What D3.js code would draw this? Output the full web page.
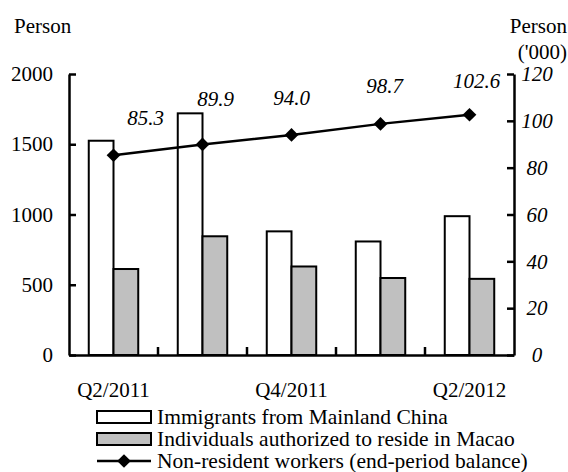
<!DOCTYPE html>
<html><head><meta charset="utf-8">
<script src="https://cdn.jsdelivr.net/npm/d3@7"></script>
<style>html,body{margin:0;padding:0;background:#fff;}svg text{font-family:'Liberation Serif','Times New Roman',serif !important;}</style>
</head><body>
<svg id="c" width="568" height="472"></svg>
<script>
const categories = ["Q2/2011","Q3/2011","Q4/2011","Q1/2012","Q2/2012"];
const xTickLabels = ["Q2/2011","","Q4/2011","","Q2/2012"];
const immigrants = [1525, 1720, 880, 808, 988];
const authorized = [612, 845, 630, 548, 542];
const workers = [85.3, 89.9, 94.0, 98.7, 102.6];
const leftTicks = [0, 500, 1000, 1500, 2000];
const rightTicks = [0, 20, 40, 60, 80, 100, 120];
const legendLabels = ["Immigrants from Mainland China","Individuals authorized to reside in Macao","Non-resident workers (end-period balance)"];
const labelOffsets = [[32,-30],[13,-38],[0,-30],[4,-31],[7,-27]];

const svg = d3.select("#c");
const L = 69, R = 514, T = 74, B = 355;
const x = d3.scaleBand().domain(categories).range([L, R]);
const yL = d3.scaleLinear().domain([0, 2000]).range([B, T]);
const yR = d3.scaleLinear().domain([0, 120]).range([B, T]);
const bw = x.bandwidth() * 0.278;
const fs = 21;

// bars
const g = svg.append("g");
g.selectAll("rect.im").data(categories).enter().append("rect")
  .attr("x", d => x(d) + x.bandwidth()/2 - bw)
  .attr("y", (d,i) => yL(immigrants[i]))
  .attr("width", bw).attr("height", (d,i) => B - yL(immigrants[i]))
  .attr("fill", "#fff").attr("stroke", "#000").attr("stroke-width", 2);
g.selectAll("rect.au").data(categories).enter().append("rect")
  .attr("x", d => x(d) + x.bandwidth()/2)
  .attr("y", (d,i) => yL(authorized[i]))
  .attr("width", bw).attr("height", (d,i) => B - yL(authorized[i]))
  .attr("fill", "#c0c0c0").attr("stroke", "#000").attr("stroke-width", 2);

// axes
const axL = svg.append("g").attr("transform", `translate(${L},0)`)
  .call(d3.axisLeft(yL).tickValues(leftTicks).tickSizeInner(-7).tickSizeOuter(0).tickPadding(16).tickFormat(d3.format("d")));
const axR = svg.append("g").attr("transform", `translate(${R},0)`)
  .call(d3.axisRight(yR).tickValues(rightTicks).tickSizeInner(-7).tickSizeOuter(0).tickPadding(0).tickFormat(d3.format("d")));
const axB = svg.append("g").attr("transform", `translate(0,${B})`)
  .call(d3.axisBottom(x).tickSizeInner(0).tickSizeOuter(0).tickPadding(27).tickFormat((d,i) => xTickLabels[i]));
[axL, axR, axB].forEach(a => {
  a.attr("font-family", null).attr("font-size", fs);
  a.selectAll("path.domain").attr("stroke", "#000").attr("stroke-width", 2.5);
  a.selectAll(".tick line").attr("stroke", "#000").attr("stroke-width", 2.5);
  a.selectAll("text").attr("font-size", fs).attr("fill", "#000");
});
axR.selectAll("text").attr("text-anchor", "middle").attr("x", 23).attr("font-style", "italic");
// category boundary ticks
svg.append("g").selectAll("line").data(categories.slice(1)).enter().append("line")
  .attr("x1", d => x(d)).attr("x2", d => x(d)).attr("y1", B).attr("y2", B - 8)
  .attr("stroke", "#000").attr("stroke-width", 2.5);

// line
const cx = (d,i) => x(categories[i]) + x.bandwidth()/2;
svg.append("path").datum(workers)
  .attr("d", d3.line().x(cx).y(d => yR(d)))
  .attr("fill", "none").attr("stroke", "#000").attr("stroke-width", 2.5);
svg.selectAll("path.pt").data(workers).enter().append("path")
  .attr("d", d3.symbol().type(d3.symbolDiamond2).size(120))
  .attr("transform", (d,i) => `translate(${cx(d,i)},${yR(d)})`)
  .attr("fill", "#000");
svg.selectAll("text.lb").data(workers).enter().append("text")
  .attr("x", (d,i) => cx(d,i) + labelOffsets[i][0])
  .attr("y", (d,i) => yR(d) + labelOffsets[i][1])
  .attr("text-anchor", "middle").attr("font-style", "italic").attr("font-size", fs)
  .text(d => d3.format(".1f")(d));

// axis titles
svg.append("text").attr("x", 14).attr("y", 33).attr("font-size", fs).text("Person");
svg.append("text").attr("x", 567).attr("y", 33).attr("text-anchor", "end").attr("font-size", fs).text("Person");
svg.append("text").attr("x", 567).attr("y", 59).attr("text-anchor", "end").attr("font-size", fs).text("('000)");

// legend
const lg = svg.append("g");
const rowY = [424, 446, 468];
lg.append("rect").attr("x", 97).attr("y", 411).attr("width", 54).attr("height", 12).attr("fill", "#fff").attr("stroke", "#000").attr("stroke-width", 2);
lg.append("rect").attr("x", 97).attr("y", 433).attr("width", 54).attr("height", 12).attr("fill", "#c0c0c0").attr("stroke", "#000").attr("stroke-width", 2);
lg.append("line").attr("x1", 97).attr("x2", 151).attr("y1", 461).attr("y2", 461).attr("stroke", "#000").attr("stroke-width", 2.5);
lg.append("path").attr("d", d3.symbol().type(d3.symbolDiamond2).size(120)).attr("transform", "translate(124,461)").attr("fill", "#000");
lg.selectAll("text").data(legendLabels).enter().append("text")
  .attr("x", 157).attr("y", (d,i) => rowY[i]).attr("font-size", 21.5).text(d => d);
</script>
</body></html>
